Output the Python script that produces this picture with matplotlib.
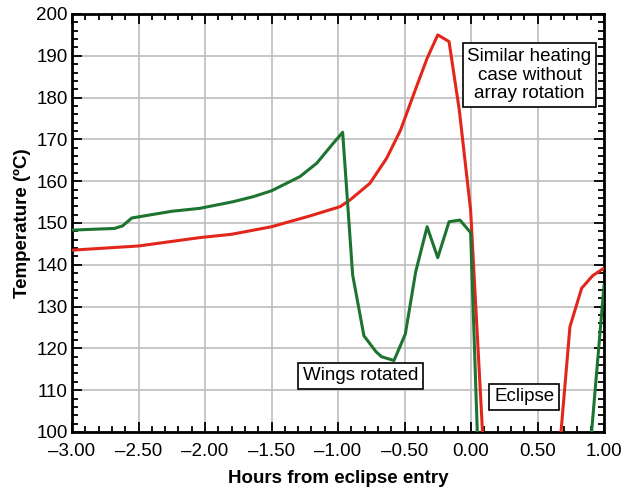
import numpy as np
import matplotlib.pyplot as plt
from matplotlib.ticker import MultipleLocator, FuncFormatter

# hours from eclipse entry / temperature (C)
rot_hours = [-3.0, -2.68, -2.62, -2.55, -2.25, -2.04, -1.787, -1.637, -1.5, -1.286,
             -1.16, -1.035, -0.965,
             -0.89, -0.805, -0.714, -0.672, -0.579, -0.494, -0.416, -0.33, -0.25,
             -0.165, -0.083, -0.003, 0.1, 0.88, 1.0]
rot_temp = [148.3, 148.7, 149.3, 151.2, 152.8, 153.5, 155.1, 156.3, 157.7, 161.1,
            164.3, 169.1, 171.7,
            137.6, 123.0, 119.2, 118.0, 117.1, 123.4, 138.3, 149.1, 141.7,
            150.3, 150.7, 147.7, 50.0, 90.0, 135.0]

norot_hours = [-3.0, -2.5, -2.04, -1.8, -1.5, -1.21, -0.985, -0.91, -0.835, -0.76,
               -0.634, -0.53, -0.41, -0.33, -0.25, -0.165, -0.088, -0.003, 0.1,
               0.65, 0.744, 0.832, 0.915, 1.0]
norot_temp = [143.5, 144.5, 146.5, 147.3, 149.1, 151.7, 153.9, 155.5, 157.5, 159.5,
              165.5, 172.2, 182.6, 189.4, 195.0, 193.4, 177.0, 153.1, 92.0,
              90.0, 125.2, 134.4, 137.4, 139.2]

plt.rcParams['font.family'] = ['Liberation Sans', 'DejaVu Sans']

fig = plt.figure(figsize=(6.25, 4.91), dpi=100)
ax = fig.add_axes([0.1152, 0.1202, 0.8512, 0.8513])

ax.plot(norot_hours, norot_temp, color='#e3261b', lw=2.2, zorder=3)
ax.plot(rot_hours, rot_temp, color='#1c7430', lw=2.2, zorder=3)

ax.set_xlim(-3, 1)
ax.set_ylim(100, 200)
ax.xaxis.set_major_locator(MultipleLocator(0.5))
ax.xaxis.set_minor_locator(MultipleLocator(0.1))
ax.yaxis.set_major_locator(MultipleLocator(10))
ax.yaxis.set_minor_locator(MultipleLocator(2))
ax.xaxis.set_major_formatter(FuncFormatter(lambda v, p: ('%.2f' % v).replace('-', '\u2013')))
ax.grid(True, which='major', color='#bdbdbd', lw=1.2, zorder=0)
ax.tick_params(which='both', direction='in', top=True, right=True, labelsize=13.5, width=1.3)
ax.tick_params(axis='x', pad=8)
ax.tick_params(axis='y', pad=3)
ax.tick_params(which='major', length=7)
ax.tick_params(which='minor', length=4)
for s in ax.spines.values():
    s.set_linewidth(2)

ax.set_xlabel('Hours from eclipse entry', fontsize=13.5, fontweight='bold', labelpad=7)
ax.set_ylabel('Temperature (ºC)', fontsize=13.5, fontweight='bold', labelpad=4)

box = dict(boxstyle='square,pad=0.25', fc='white', ec='black', lw=1.2)
ax.text(0.44, 185.4, 'Similar heating\ncase without\narray rotation', ha='center', va='center',
        fontsize=13.5, bbox=box, zorder=5, linespacing=1.12)
ax.text(-0.83, 113.4, 'Wings rotated', ha='center', va='center', fontsize=13.5,
        bbox=box, zorder=5)
ax.text(0.40, 108.4, 'Eclipse', ha='center', va='center', fontsize=13.5,
        bbox=box, zorder=5)

fig.savefig('out.png', dpi=100)
